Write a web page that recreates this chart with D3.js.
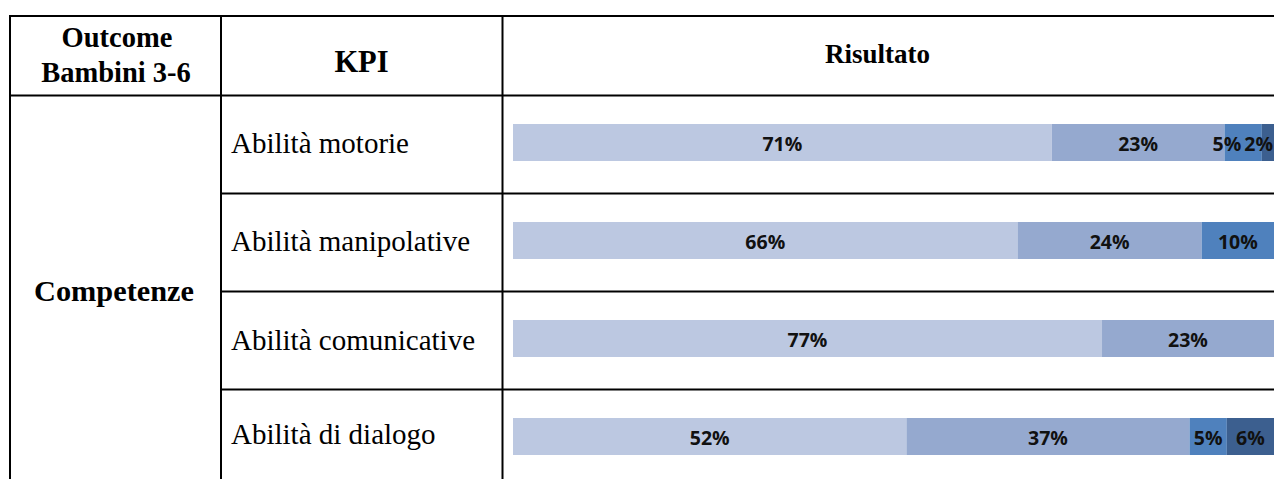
<!DOCTYPE html>
<html>
<head>
<meta charset="utf-8">
<script src="https://cdn.jsdelivr.net/npm/d3@7"></script>
<style>
  html, body { margin: 0; padding: 0; background: #fff; }
  svg { display: block; }
</style>
</head>
<body>
<svg id="chart" width="1274" height="479"></svg>
<script>
// ---- data ----
const outcome = "Competenze";
const headers = ["Outcome", "KPI", "Risultato"];
const kpis = ["Abilità motorie", "Abilità manipolative", "Abilità comunicative", "Abilità di dialogo"];
const series1 = [70.8, 66.3, 77.4, 51.7];
const series2 = [22.7, 24.2, 22.6, 37.2];
const series3 = [4.9, 9.5, 0, 4.9];
const series4 = [1.6, 0, 0, 6.2];
const seriesColors = ["#BCC8E1", "#95A9CF", "#4F81BD", "#3C5F8F"];

const svg = d3.select("#chart");
const W = 1274, H = 479;

const colX = [10, 221, 502.5];
const tableTop = 16, headerBottom = 95.5;

// scales
const x = d3.scaleLinear().domain([0, 100]).range([513, 1274]);
const y = d3.scaleBand().domain(kpis).range([headerBottom, headerBottom + 98 * kpis.length]);

const allSeries = [series1, series2, series3, series4];
const rows = kpis.map((k, i) => {
  let acc = 0;
  const segs = allSeries.map((s, j) => {
    const v = s[i];
    const seg = { kpi: k, j, v, x0: acc, x1: acc + v };
    acc += v;
    return seg;
  }).filter(d => d.v > 0);
  return { kpi: k, segs };
});

// bars
const barOff = 28.5, barH = 37;
const g = svg.append("g");
rows.forEach(r => {
  g.selectAll(null).data(r.segs).enter().append("rect")
    .attr("x", d => x(d.x0))
    .attr("y", y(r.kpi) + barOff)
    .attr("width", d => x(d.x1) - x(d.x0))
    .attr("height", barH)
    .attr("fill", d => seriesColors[d.j]);

  // labels, laid out right-to-left to avoid overlaps
  const texts = g.selectAll(null).data(r.segs).enter().append("text")
    .attr("y", y(r.kpi) + barOff + barH / 2 + 1)
    .attr("dominant-baseline", "central")
    .attr("text-anchor", "middle")
    .style("font-family", "'Open Sans', sans-serif")
    .style("font-weight", 700)
    .style("font-size", "19.5px")
    .attr("fill", "#111")
    .text(d => Math.round(d.v) + "%");
  const nodes = texts.nodes();
  let limit = x.range()[1] - 1;
  for (let k = nodes.length - 1; k >= 0; k--) {
    const d = r.segs[k];
    const w = nodes[k].getComputedTextLength();
    let cx = (x(d.x0) + x(d.x1)) / 2;
    if (cx + w / 2 > limit) cx = limit - w / 2;
    d3.select(nodes[k]).attr("x", cx);
    limit = cx - w / 2 - 3;
  }
});

// grid lines
const line = (x1, y1, x2, y2) => svg.append("line")
  .attr("x1", x1).attr("y1", y1).attr("x2", x2).attr("y2", y2)
  .attr("stroke", "#000").attr("stroke-width", 2);
line(colX[0] - 1, tableTop, W, tableTop);
line(colX[0] - 1, headerBottom, W, headerBottom);
kpis.slice(1).forEach(k => line(colX[1], y(k), W, y(k)));
colX.forEach(cx => line(cx, tableTop - 1, cx, H));

// text
const serif = "'Liberation Serif', 'Times New Roman', serif";
const txt = (s, tx, ty, opts) => svg.append("text")
  .attr("x", tx).attr("y", ty)
  .attr("text-anchor", opts.anchor || "start")
  .style("font-family", serif)
  .style("font-weight", opts.bold ? 700 : 400)
  .style("font-size", opts.size + "px")
  .attr("fill", "#000")
  .text(s);

txt(headers[0], 117, 47, { anchor: "middle", bold: true, size: 28.5 });
txt("Bambini 3-6", 116, 82, { anchor: "middle", bold: true, size: 28.5 });
txt(headers[1], 361.5, 72, { anchor: "middle", bold: true, size: 30.5 });
txt(headers[2], 877.5, 63, { anchor: "middle", bold: true, size: 27 });
txt(outcome, 114, 301, { anchor: "middle", bold: true, size: 30.3 });

const kpiBase = [57, 57.5, 58, 54];
kpis.forEach((k, i) => txt(k, 231, y(k) + kpiBase[i], { size: 29 }));
</script>
</body>
</html>
